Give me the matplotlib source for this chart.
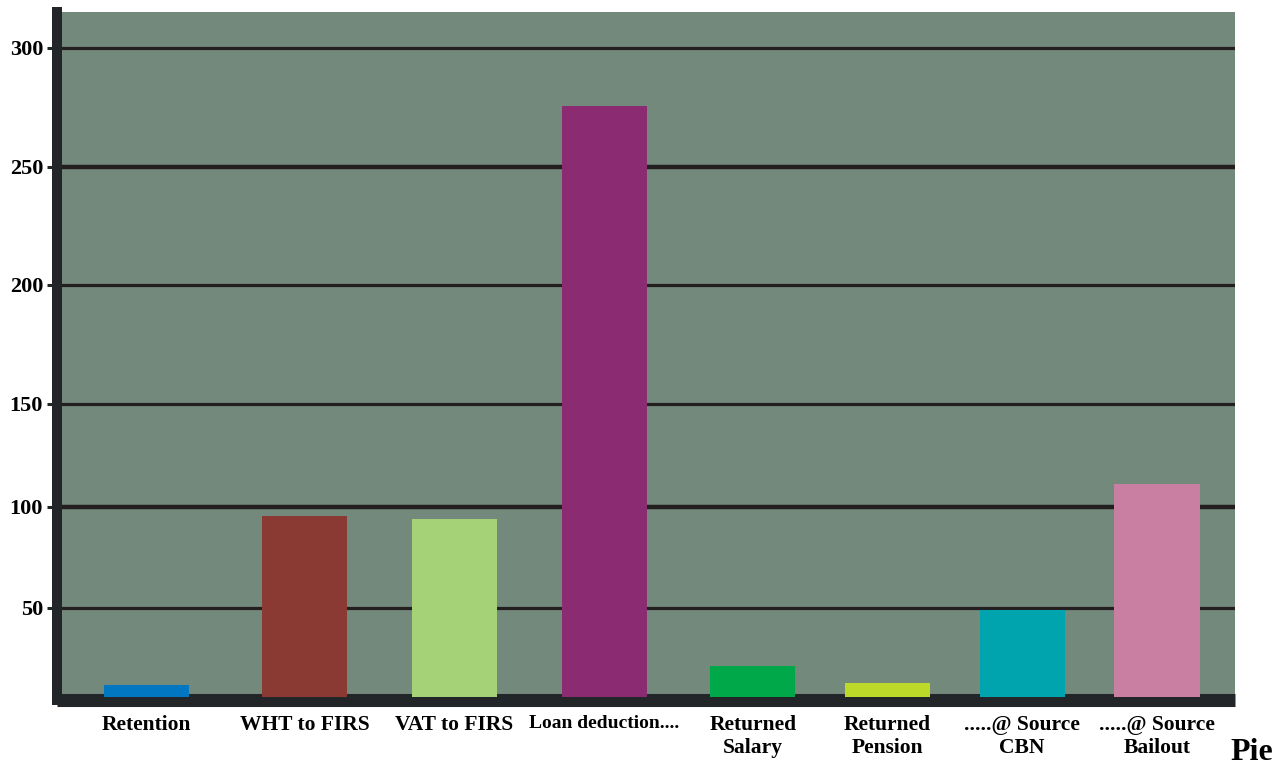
import numpy as np
import matplotlib.pyplot as plt

# Chart data
categories = ['Retention', 'WHT to FIRS', 'VAT to FIRS', 'Loan deduction....',
              'Returned\nSalary', 'Returned\nPension', '.....@ Source\nCBN', '.....@ Source\nBailout']
values = [6.7, 95.5, 94.0, 275.4, 17.4, 7.9, 49.0, 111.0]
colors = ['#0077c0', '#8b3a33', '#a5d177', '#8b2b72', '#00a84a', '#bcd92a', '#00a4ae', '#c87fa2']
y_ticks = [50, 100, 150, 200, 250, 300]

# category slots are not evenly spaced in the original
x_pos = [0, 1.094, 2.133, 3.172, 4.2, 5.132, 6.066, 7.0]

# The original value axis is not evenly spaced: piecewise-linear scale
knot_vals = np.array([0, 50, 100, 150, 200, 250, 300])
knot_pos = np.array([0, 89, 190, 293, 412, 530, 649], dtype=float)


def forward(v):
    v = np.asarray(v, dtype=float)
    out = np.interp(v, knot_vals, knot_pos)
    lo = v < knot_vals[0]
    hi = v > knot_vals[-1]
    out = np.where(lo, knot_pos[0] + (v - knot_vals[0]) * (knot_pos[1] - knot_pos[0]) / 50, out)
    out = np.where(hi, knot_pos[-1] + (v - knot_vals[-1]) * (knot_pos[-1] - knot_pos[-2]) / 50, out)
    return out


def inverse(p):
    p = np.asarray(p, dtype=float)
    out = np.interp(p, knot_pos, knot_vals)
    lo = p < knot_pos[0]
    hi = p > knot_pos[-1]
    out = np.where(lo, knot_vals[0] + (p - knot_pos[0]) * 50 / (knot_pos[1] - knot_pos[0]), out)
    out = np.where(hi, knot_vals[-1] + (p - knot_pos[-1]) * 50 / (knot_pos[-1] - knot_pos[-2]), out)
    return out


plt.rcParams['font.family'] = ['Liberation Serif', 'DejaVu Serif']
plt.rcParams['font.weight'] = 'bold'

W, H = 1287, 767
fig = plt.figure(figsize=(W / 100, H / 100), dpi=100)
ax = fig.add_axes([57 / W, 1 - 699.5 / H, (1235 - 57) / W, (699.5 - 12) / H])
ax.set_facecolor('#73897b')

ax.set_yscale('function', functions=(forward, inverse))
ax.bar(x_pos, values, width=0.59, color=colors, zorder=3)

ax.set_xlim(-0.62, 7.54)
ax.set_ylim(-1.4, 315)

ax.set_yticks(y_ticks)
ax.set_yticklabels([str(t) for t in y_ticks], fontsize=16, fontweight='bold')
ax.yaxis.set_minor_locator(plt.NullLocator())
ax.tick_params(axis='y', length=7, width=2.2, color='#222628', pad=3)
ax.set_xticks(x_pos)
ax.set_xticklabels(categories, fontsize=15.5, fontweight='bold', linespacing=1.2)
ax.get_xticklabels()[3].set_fontsize(14)
ax.tick_params(axis='x', length=0, pad=11)

ax.yaxis.grid(True, color='#231f20', linewidth=2.3, zorder=1)
ax.set_axisbelow(True)
for t in ax.yaxis.get_major_ticks():
    if t.get_loc() in (100, 250):
        t.gridline.set_linewidth(3.2)

for side in ('top', 'right'):
    ax.spines[side].set_visible(False)
ax.spines['left'].set_linewidth(7.2)
ax.spines['left'].set_color('#222628')
ax.spines['bottom'].set_linewidth(9.4)
ax.spines['bottom'].set_color('#222628')
ax.spines['bottom'].set_capstyle('butt')
ax.spines['bottom'].set_zorder(2)

fig.text(1230 / W, 1 - 760 / H, 'Pie', fontsize=23, fontweight='bold', va='baseline', ha='left')

fig.savefig('out.png', dpi=100)
